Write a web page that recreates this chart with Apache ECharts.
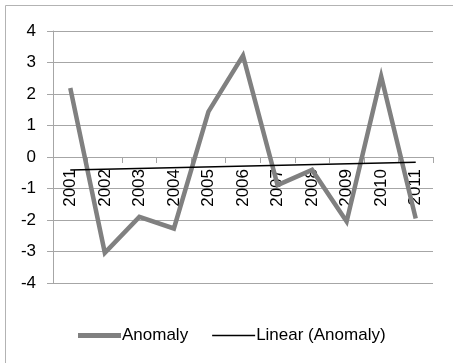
<!DOCTYPE html>
<html>
<head>
<meta charset="utf-8">
<script src="https://cdn.jsdelivr.net/npm/echarts@6/dist/echarts.min.js"></script>
<style>html,body{margin:0;padding:0;background:#fff}#c{width:453px;height:363px}</style>
</head>
<body>
<div id="c"></div>
<script>
var years = ['2001','2002','2003','2004','2005','2006','2007','2008','2009','2010','2011'];
var anomaly = [2.19, -3.04, -1.9, -2.27, 1.44, 3.22, -0.89, -0.41, -2.05, 2.56, -1.95];
var trend = [-0.41, null, null, null, null, null, null, null, null, null, -0.17];
var yTicks = [-4, 4, 1];

var font = 'Liberation Sans';
var chart = echarts.init(document.getElementById('c'));
chart.setOption({
  animation: false,
  backgroundColor: '#fff',
  textStyle: {fontFamily: font},
  graphic: [{
    type: 'polyline',
    shape: {points: [[5.5, 363], [5.5, 5.5], [453, 5.5]]},
    style: {stroke: '#b3b3b3', lineWidth: 1, fill: null}
  }],
  grid: {left: 53, right: 20, top: 31, bottom: 80, containLabel: false},
  legend: {
    top: 322, left: 73,
    itemWidth: 43, itemHeight: 14, itemGap: 24,
    symbolKeepAspect: true,
    textStyle: {fontFamily: font, fontSize: 17, color: '#000', padding: [0,0,0,-4]},
    data: [
      {name: 'Anomaly', icon: 'path://M0,0H43V5H0Z', itemStyle: {color: '#808080'}},
      {name: 'Linear (Anomaly)', icon: 'path://M0,0H43V1.5H0Z', itemStyle: {color: '#000'}}
    ]
  },
  xAxis: {
    type: 'category',
    data: years,
    boundaryGap: true,
    position: 'bottom',
    offset: -126,
    axisLine: {onZero: false, lineStyle: {color: '#a6a6a6', width: 1}},
    axisTick: {show: true, length: 6, lineStyle: {color: '#a6a6a6'}},
    axisLabel: {rotate: 90, margin: 12, fontSize: 17, color: '#000', fontFamily: font, interval: 0},
    splitLine: {show: false}
  },
  yAxis: {
    type: 'value',
    min: yTicks[0], max: yTicks[1], interval: yTicks[2],
    axisLine: {show: true, lineStyle: {color: '#a6a6a6', width: 1}},
    axisTick: {show: true, length: 6, lineStyle: {color: '#a6a6a6'}},
    axisLabel: {margin: 17, fontSize: 17, color: '#000', fontFamily: font},
    splitLine: {show: true, lineStyle: {color: '#a6a6a6', width: 1}}
  },
  series: [{
    name: 'Anomaly',
    type: 'line',
    data: anomaly,
    symbol: 'none',
    color: '#808080',
    lineStyle: {color: '#808080', width: 4.5, join: 'miter'},
    z: 3
  }, {
    name: 'Linear (Anomaly)',
    type: 'line',
    data: trend,
    connectNulls: true,
    symbol: 'none',
    color: '#000',
    lineStyle: {color: '#000', width: 1.5},
    z: 4
  }]
});
</script>
</body>
</html>
